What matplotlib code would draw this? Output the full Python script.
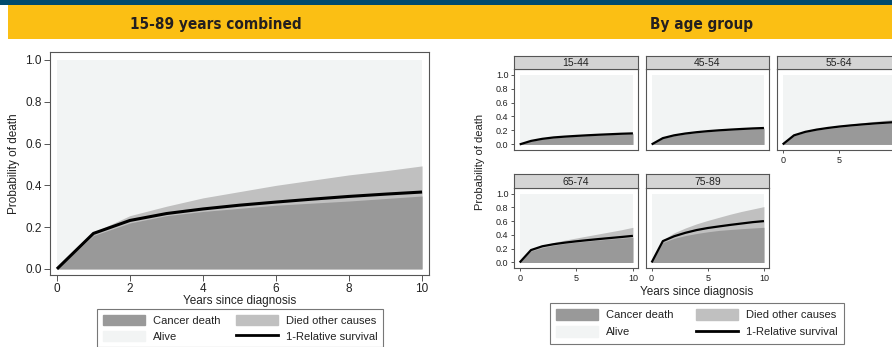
import numpy as np
import matplotlib
matplotlib.use("Agg")
import matplotlib.pyplot as plt
import matplotlib.font_manager as fm
from matplotlib.patches import Patch, Rectangle
from matplotlib.lines import Line2D

plt.rcParams['font.family'] = ['Liberation Sans', 'DejaVu Sans']

W, H = 892, 347

years = [0, 1, 2, 3, 4, 5, 6, 7, 8, 9, 10]

# 15-89 combined (cumulative probabilities)
all_cancer = [0, 0.16, 0.22, 0.255, 0.275, 0.29, 0.305, 0.315, 0.325, 0.337, 0.349]
all_other = [0, 0.175, 0.255, 0.30, 0.34, 0.37, 0.40, 0.425, 0.45, 0.47, 0.493]
all_rs = [0, 0.17, 0.232, 0.265, 0.287, 0.305, 0.32, 0.334, 0.347, 0.358, 0.368]

age_groups = ['15-44', '45-54', '55-64', '65-74', '75-89']
grp_cancer = {
    '15-44': [0, 0.045, 0.075, 0.095, 0.107, 0.117, 0.126, 0.134, 0.141, 0.147, 0.152],
    '45-54': [0, 0.085, 0.125, 0.15, 0.168, 0.183, 0.195, 0.205, 0.214, 0.222, 0.228],
    '55-64': [0, 0.125, 0.175, 0.205, 0.228, 0.247, 0.262, 0.276, 0.289, 0.30, 0.31],
    '65-74': [0, 0.165, 0.215, 0.25, 0.275, 0.295, 0.31, 0.325, 0.34, 0.352, 0.365],
    '75-89': [0, 0.29, 0.35, 0.39, 0.42, 0.445, 0.465, 0.478, 0.49, 0.50, 0.51],
}
grp_other = {
    '15-44': [0, 0.05, 0.08, 0.10, 0.113, 0.123, 0.132, 0.14, 0.147, 0.154, 0.16],
    '45-54': [0, 0.09, 0.13, 0.157, 0.176, 0.192, 0.205, 0.216, 0.226, 0.235, 0.243],
    '55-64': [0, 0.135, 0.187, 0.22, 0.247, 0.27, 0.29, 0.31, 0.328, 0.345, 0.36],
    '65-74': [0, 0.18, 0.245, 0.29, 0.325, 0.355, 0.385, 0.415, 0.445, 0.475, 0.51],
    '75-89': [0, 0.33, 0.43, 0.50, 0.56, 0.61, 0.655, 0.70, 0.74, 0.775, 0.81],
}
grp_rs = {
    '15-44': [0, 0.05, 0.08, 0.10, 0.112, 0.122, 0.131, 0.139, 0.146, 0.153, 0.158],
    '45-54': [0, 0.09, 0.13, 0.156, 0.175, 0.19, 0.202, 0.212, 0.221, 0.229, 0.235],
    '55-64': [0, 0.13, 0.18, 0.212, 0.236, 0.256, 0.272, 0.286, 0.299, 0.31, 0.32],
    '65-74': [0, 0.18, 0.235, 0.265, 0.288, 0.307, 0.324, 0.34, 0.355, 0.37, 0.386],
    '75-89': [0, 0.31, 0.38, 0.43, 0.47, 0.50, 0.523, 0.545, 0.565, 0.585, 0.60],
}

C_CANCER = '#999999'
C_OTHER = '#c0c0c0'
C_ALIVE = '#f2f4f4'
C_FRAME = '#555555'
C_TEXT = '#222222'


def px(x0, y0, x1, y1):
    return [x0 / W, 1 - y1 / H, (x1 - x0) / W, (y1 - y0) / H]


def narrow_bold_font():
    # look for a condensed bold face; fall back to plain bold
    narrow = ('condensed', 'semi-condensed', 'extra-condensed', 'ultra-condensed')
    best = None
    for f in fm.fontManager.ttflist:
        is_narrow = ('Condensed' in f.name or 'Narrow' in f.name
                     or str(f.stretch) in narrow
                     or (isinstance(f.stretch, int) and f.stretch < 500))
        w = f.weight if isinstance(f.weight, int) else (700 if 'bold' in str(f.weight) else 400)
        if is_narrow and w >= 600 and 'italic' not in str(f.style) and 'oblique' not in str(f.style):
            best = f
            break
    if best is not None:
        return fm.FontProperties(fname=best.fname, size=11)
    return fm.FontProperties(family='DejaVu Sans', weight='bold', size=9.5)


def draw_panel(ax, cancer, other, rs, lw):
    ax.fill_between([0, 10], 0, 1, color=C_ALIVE, lw=0)
    ax.fill_between(years, 0, other, color=C_OTHER, lw=0)
    ax.fill_between(years, 0, cancer, color=C_CANCER, lw=0)
    ax.plot(years, rs, color='black', lw=lw, solid_capstyle='butt')
    for s in ax.spines.values():
        s.set_color(C_FRAME)
        s.set_linewidth(0.8)
    ax.tick_params(colors=C_TEXT, color=C_FRAME, width=0.7)


fig = plt.figure(figsize=(W / 100, H / 100), dpi=100)

# header bands
fig.patches.append(Rectangle((0, 1 - 5 / H), 1, 5 / H, transform=fig.transFigure,
                             color='#004a6e', lw=0))
fig.patches.append(Rectangle((8 / W, 1 - 39 / H), 1, 34 / H, transform=fig.transFigure,
                             color='#fbbf14', lw=0))
tprop = narrow_bold_font()
fig.text(216 / W, 1 - 24 / H, '15-89 years combined', fontproperties=tprop,
         color='#231f20', ha='center', va='center')
fig.text(702 / W, 1 - 24 / H, 'By age group', fontproperties=tprop,
         color='#231f20', ha='center', va='center')

# left: combined
ax = fig.add_axes(px(50, 52, 429, 275))
draw_panel(ax, all_cancer, all_other, all_rs, 2.2)
ax.set_xlim(-0.19, 10.19)
ax.set_ylim(-0.029, 1.038)
ax.set_xticks([0, 2, 4, 6, 8, 10])
ax.set_yticks([0, 0.2, 0.4, 0.6, 0.8, 1.0])
ax.set_yticklabels(['0.0', '0.2', '0.4', '0.6', '0.8', '1.0'])
ax.tick_params(labelsize=8.5, length=4, pad=2)
ax.set_xlabel('Years since diagnosis', fontsize=8.5, color=C_TEXT, labelpad=0)
ax.set_ylabel('Probability of death', fontsize=8.5, color=C_TEXT, labelpad=4)

handles = [Patch(color=C_CANCER), Patch(color=C_ALIVE),
           Patch(color=C_OTHER), Line2D([], [], color='black', lw=2)]
labels = ['Cancer death', 'Alive', 'Died other causes', '1-Relative survival']


def add_legend(x, y, fs, colsp, bpad, lsp):
    leg = fig.legend(handles, labels, ncol=2, loc='upper left',
                     bbox_to_anchor=(x / W, 1 - y / H), fontsize=fs, frameon=True,
                     fancybox=False, handlelength=3.8, handleheight=1.1,
                     columnspacing=colsp, handletextpad=0.7, labelspacing=lsp,
                     borderpad=bpad, borderaxespad=0)
    leg.get_frame().set_edgecolor(C_FRAME)
    leg.get_frame().set_linewidth(0.8)
    for t in leg.get_texts():
        t.set_color(C_TEXT)
    return leg


add_legend(97, 309, 8, 1.4, 0.5, 0.45)

# right: by age group
cols = [(514, 638), (646, 769), (777, 901)]
rows = [(56, 69, 150), (174, 188, 268)]
layout = {'15-44': (0, 0), '45-54': (0, 1), '55-64': (0, 2),
          '65-74': (1, 0), '75-89': (1, 1)}

for g in age_groups:
    r, c = layout[g]
    x0, x1 = cols[c]
    ys, yp, yb = rows[r]
    ax = fig.add_axes(px(x0, yp, x1, yb))
    draw_panel(ax, grp_cancer[g], grp_other[g], grp_rs[g], 1.6)
    ax.set_xlim(-0.5, 10.45)
    ax.set_ylim(-0.08, 1.08)
    ax.set_yticks([0, 0.2, 0.4, 0.6, 0.8, 1.0])
    ax.set_xticks([0, 5, 10])
    ax.tick_params(labelsize=6.5, length=2.5, pad=1.5)
    if c == 0:
        ax.set_yticklabels(['0.0', '0.2', '0.4', '0.6', '0.8', '1.0'])
    else:
        ax.tick_params(axis='y', length=0, labelleft=False)
    if r == 0 and c < 2:
        ax.tick_params(axis='x', length=0, labelbottom=False)
    # strip
    sax = fig.add_axes(px(x0, ys, x1, yp))
    sax.set_facecolor('#d4d4d4')
    sax.set_xticks([])
    sax.set_yticks([])
    for s in sax.spines.values():
        s.set_color(C_FRAME)
        s.set_linewidth(0.8)
    sax.text(0.5, 0.45, g, transform=sax.transAxes, ha='center', va='center',
             fontsize=7.5, color=C_TEXT)

fig.text(480 / W, 1 - 162 / H, 'Probability of death', rotation=90, fontsize=8,
         color=C_TEXT, ha='center', va='center')
fig.text(697 / W, 1 - 292 / H, 'Years since diagnosis', fontsize=8.5,
         color=C_TEXT, ha='center', va='center')

add_legend(550, 303, 8, 2.0, 0.55, 0.55)

fig.savefig('out.png', dpi=100)
